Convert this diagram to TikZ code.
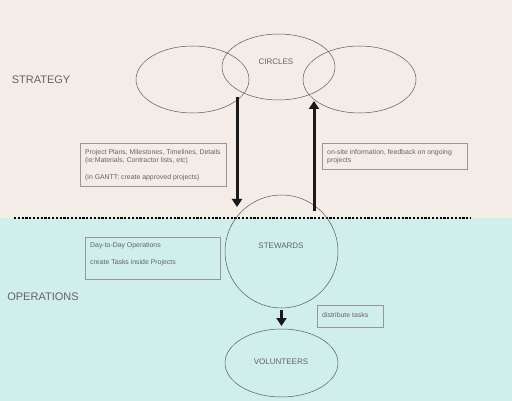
\documentclass[tikz,border=0pt]{standalone}
\usepackage{fontspec}
\setmainfont{Liberation Sans}
\usetikzlibrary{shapes.geometric,arrows.meta}
\definecolor{topbg}{RGB}{244,237,231}
\definecolor{botbg}{RGB}{207,238,236}
\definecolor{txt}{RGB}{100,100,100}
\definecolor{edge}{RGB}{90,90,90}
\definecolor{boxedge}{RGB}{150,150,150}
\tikzset{
  oval/.style={ellipse,draw=edge,line width=0.5pt,inner sep=0pt,minimum width=113pt,minimum height=67pt},
  bigtxt/.style={text=txt,font=\fontsize{11}{13}\selectfont,inner sep=0pt},
  midtxt/.style={text=txt,font=\fontsize{8}{10}\selectfont,inner sep=0pt},
  smalltxt/.style={text=txt,font=\fontsize{6.9}{8}\selectfont,inner sep=0pt,align=left,anchor=north west},
  infobox/.style={draw=boxedge,line width=0.6pt,inner sep=0pt,anchor=north west},
  flow/.style={line width=3pt,black!90,-{Triangle[width=10pt,length=8pt]}},
}
\begin{document}
\begin{tikzpicture}[x=1pt,y=-1pt]
\useasboundingbox (0,0) rectangle (512,401);
\fill[topbg] (0,0) rectangle (512,218);
\fill[botbg] (0,218) rectangle (512,401);
\draw[black,line width=1.6pt,dash pattern=on 2.2pt off 1.6pt] (14,218) -- (471,218);

\node[bigtxt] (strategy) at (41,80) {STRATEGY};
\node[bigtxt] (operations) at (43,297) {OPERATIONS};

\node[oval] (left) at (192.5,79.5) {};
\node[oval,minimum height=66pt] (circles) at (278.5,67) {};
\node[oval] (right) at (359.5,79.5) {};
\node[midtxt] (circlestxt) at (276,62) {CIRCLES};

\node[circle,draw=edge,line width=0.5pt,minimum size=113pt,inner sep=0pt] (stewards) at (281.5,251.5) {};
\node[midtxt] (stewardstxt) at (281,246) {STEWARDS};

\node[oval,minimum height=68pt] (volunteers) at (281.5,363) {};
\node[midtxt] (volunteerstxt) at (281,362) {VOLUNTEERS};

\node[infobox,minimum width=146pt,minimum height=43pt] (plansbox) at (80,143) {};
\node[smalltxt] (planstxt) at ([shift={(5,6)}]plansbox.north west) {Project Plans, Milestones, Timelines, Details\\(ie:Materials, Contractor lists, etc)\\[9pt](in GANTT: create approved projects)};

\node[infobox,minimum width=145pt,minimum height=26pt] (feedbox) at (322,143) {};
\node[smalltxt] (feedtxt) at ([shift={(5,6)}]feedbox.north west) {on-site information, feedback on ongoing\\projects};

\node[infobox,minimum width=135pt,minimum height=42pt] (opsbox) at (85,237) {};
\node[smalltxt] (opstxt) at ([shift={(5,5)}]opsbox.north west) {Day-to-Day Operations\\[9pt]create Tasks inside Projects};

\node[infobox,minimum width=66pt,minimum height=22pt] (distbox) at (317,305) {};
\node[smalltxt] (disttxt) at ([shift={(5,7)}]distbox.north west) {distribute tasks};

\coordinate (downstart) at (237,97);
\coordinate (downend) at (237,207);
\coordinate (upstart) at (314,211);
\coordinate (upend) at (314,101);
\draw[flow] (downstart) -- (downend);
\draw[flow] (upstart) -- (upend);
\draw[flow] (stewards.south) ++(0,2) coordinate (svstart) -- (281.5,326) coordinate (svend);
\end{tikzpicture}
\end{document}
